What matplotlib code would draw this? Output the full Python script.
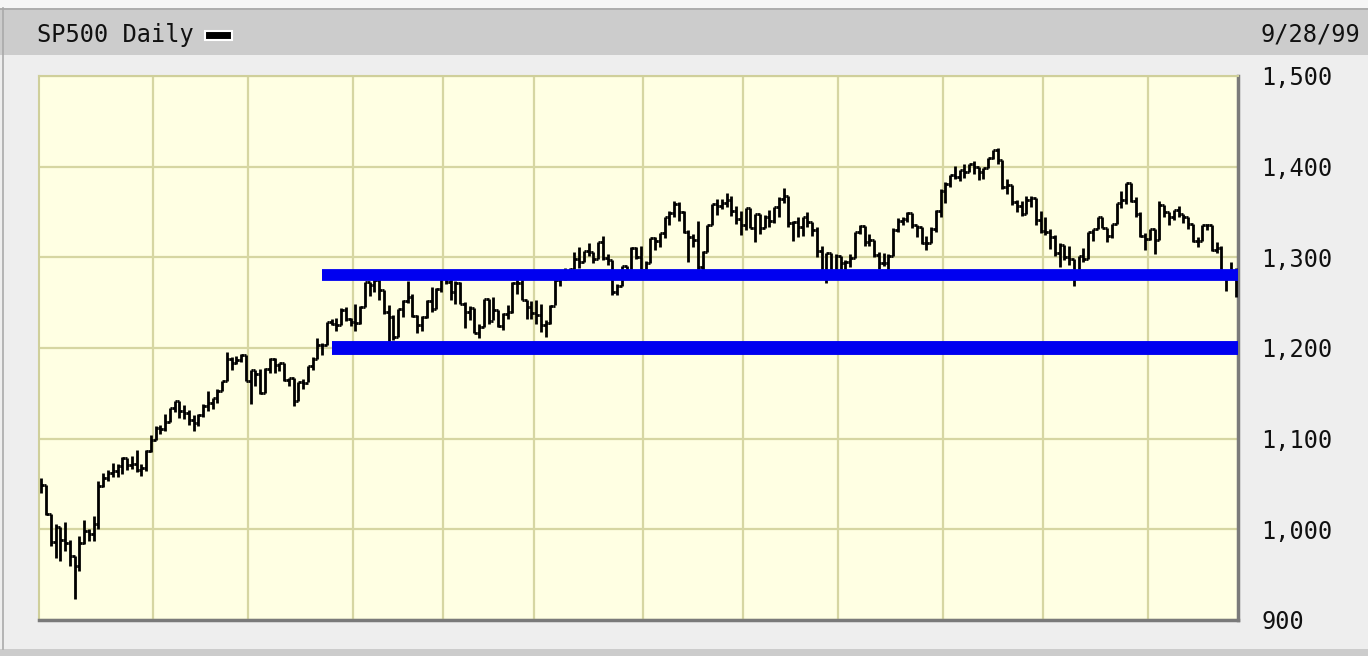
import numpy as np
import matplotlib.pyplot as plt
from matplotlib.patches import Rectangle
from matplotlib.ticker import FuncFormatter

# trading days per month, 9/29/98 .. 9/28/99
month_lengths = [2, 22, 20, 22, 19, 19, 23, 21, 20, 22, 21, 22, 19]

close = [
    1049.0, 1017.0,
    986.4, 1002.6, 988.6, 984.6, 970.7, 959.4, 984.4, 997.7, 994.8, 1005.5, 1047.5,
    1056.4, 1062.4, 1063.9, 1069.9, 1078.5, 1070.7, 1072.3, 1065.3, 1068.1, 1085.9, 1098.7,
    1111.6, 1110.8, 1118.7, 1133.9, 1141.0, 1130.2, 1128.3, 1121.0, 1117.7, 1125.7,
    1135.9, 1139.3, 1144.5, 1152.6, 1163.6, 1188.2, 1183.0, 1186.9, 1192.3, 1163.6,
    1175.3, 1171.3, 1150.1, 1176.7, 1187.7, 1181.4, 1183.5, 1165.0, 1166.5, 1141.2, 1162.8,
    1161.9, 1180.0, 1188.0, 1202.8, 1203.6, 1228.5, 1226.3, 1225.5, 1241.8, 1231.9, 1229.2,
    1228.1, 1244.8, 1272.3, 1269.7, 1275.1, 1263.9, 1239.5, 1234.4, 1212.2, 1243.3,
    1252.0, 1256.6, 1235.2, 1225.2, 1234.0, 1252.3, 1243.2, 1265.4, 1279.6,
    1273.0, 1262.0, 1272.1, 1248.5, 1239.4, 1243.8, 1216.1, 1223.6, 1254.0, 1230.1,
    1241.9, 1224.0, 1237.3, 1239.2, 1272.1, 1271.2, 1253.4, 1245.0, 1238.3,
    1236.2, 1225.5, 1227.7, 1246.6, 1275.5, 1282.7, 1279.8, 1286.8, 1297.7, 1294.6, 1307.3, 1306.4,
    1297.8, 1316.6, 1299.3, 1297.0, 1262.1, 1268.6, 1290.0, 1282.8, 1310.2, 1300.8, 1286.4,
    1293.7, 1321.1, 1317.9, 1326.9, 1344.0, 1348.4, 1358.6, 1349.8, 1328.4, 1322.9, 1319.0,
    1289.5, 1306.2, 1336.1, 1358.8, 1356.9, 1360.0, 1362.8, 1350.9, 1342.8, 1335.2,
    1354.6, 1332.0, 1347.3, 1332.1, 1345.0, 1340.3, 1355.6, 1364.0, 1367.6, 1337.8,
    1339.5, 1333.3, 1344.2, 1338.8, 1330.3, 1306.7, 1284.4, 1304.8, 1281.4, 1301.8,
    1294.3, 1294.8, 1299.5, 1327.8, 1334.5, 1317.3, 1318.6, 1302.8, 1293.6, 1294.0, 1301.2,
    1330.4, 1339.9, 1342.8, 1349.0, 1335.9, 1333.1, 1315.8, 1315.3, 1331.4, 1351.5, 1372.7,
    1381.0, 1391.2, 1388.1, 1395.9, 1394.4, 1403.3, 1399.1, 1393.6, 1398.2, 1409.6, 1418.8,
    1407.7, 1377.1, 1379.3, 1361.0, 1356.9, 1347.8, 1362.8, 1365.4, 1341.0, 1328.7,
    1328.1, 1322.2, 1305.3, 1313.7, 1300.3, 1297.8, 1281.4, 1301.9, 1298.2, 1327.7, 1330.8,
    1344.2, 1332.8, 1323.6, 1336.6, 1360.2, 1363.5, 1381.8, 1362.0, 1348.3, 1324.0, 1320.4,
    1331.1, 1319.1, 1357.2, 1350.5, 1344.2, 1351.7, 1347.7, 1344.1, 1336.3, 1318.0,
    1318.5, 1335.4, 1335.5, 1307.6, 1310.5, 1280.4, 1277.4, 1283.3, 1282.2,
]

high = [
    1056.3, 1049.0,
    1017.0, 1005.6, 1002.6, 1008.0, 988.6, 970.7, 993.0, 1010.0, 1000.8, 1014.4, 1053.1,
    1062.0, 1065.0, 1073.0, 1072.4, 1080.0, 1078.5, 1081.0, 1087.1, 1072.3, 1088.0, 1103.8,
    1114.5, 1114.8, 1127.4, 1133.9, 1141.3, 1141.0, 1136.9, 1131.4, 1126.5, 1126.9,
    1138.4, 1152.8, 1145.0, 1155.1, 1163.6, 1196.0, 1190.5, 1191.3, 1192.9, 1192.3,
    1175.9, 1175.3, 1176.3, 1177.4, 1188.9, 1189.1, 1183.8, 1183.5, 1167.0, 1166.5, 1163.0,
    1166.0, 1180.0, 1190.0, 1210.9, 1205.0, 1229.0, 1232.0, 1233.0, 1244.0, 1245.0, 1233.0,
    1248.8, 1246.1, 1273.0, 1272.3, 1278.2, 1276.0, 1264.0, 1247.0, 1236.0, 1243.3,
    1253.0, 1274.0, 1260.0, 1236.0, 1235.0, 1253.0, 1267.0, 1266.0, 1280.0,
    1283.8, 1279.0, 1274.0, 1273.0, 1251.0, 1246.0, 1244.0, 1226.0, 1254.0, 1254.0,
    1256.0, 1242.0, 1239.0, 1247.0, 1273.0, 1280.0, 1283.0, 1253.0, 1252.0,
    1253.0, 1248.0, 1231.0, 1247.0, 1276.0, 1283.0, 1288.0, 1288.0, 1306.0, 1311.0, 1307.3, 1316.0,
    1306.4, 1317.0, 1323.0, 1304.0, 1297.0, 1271.0, 1290.0, 1290.0, 1311.0, 1311.0, 1312.0,
    1296.0, 1321.1, 1322.0, 1327.0, 1344.1, 1351.0, 1362.0, 1361.0, 1351.0, 1330.0, 1326.0,
    1340.0, 1307.0, 1336.1, 1359.0, 1364.0, 1364.0, 1371.0, 1368.0, 1357.0, 1351.0,
    1354.6, 1354.6, 1347.3, 1348.0, 1347.0, 1352.0, 1356.0, 1367.0, 1376.0, 1367.6,
    1340.0, 1345.0, 1344.2, 1350.0, 1339.0, 1333.0, 1312.0, 1305.0, 1305.0, 1304.0,
    1301.8, 1297.0, 1304.0, 1328.0, 1336.0, 1334.5, 1326.0, 1318.6, 1306.0, 1305.0, 1304.0,
    1332.0, 1343.0, 1345.0, 1350.0, 1349.0, 1335.9, 1334.0, 1324.0, 1333.0, 1352.0, 1375.0,
    1383.0, 1391.2, 1401.0, 1395.9, 1403.0, 1403.3, 1406.0, 1399.1, 1398.2, 1409.6, 1418.8,
    1420.3, 1407.7, 1386.0, 1380.0, 1363.0, 1362.0, 1368.0, 1368.0, 1365.0, 1351.0,
    1344.0, 1331.0, 1325.0, 1316.0, 1313.7, 1313.0, 1298.0, 1302.0, 1310.0, 1327.7, 1331.0,
    1344.2, 1344.2, 1332.8, 1336.6, 1360.2, 1373.0, 1382.0, 1381.8, 1366.0, 1350.0, 1327.0,
    1331.1, 1331.1, 1362.0, 1358.0, 1350.5, 1352.0, 1357.0, 1347.7, 1344.1, 1336.3,
    1322.0, 1335.4, 1337.0, 1335.5, 1317.0, 1312.0, 1281.0, 1295.0, 1288.0,
]

low = [
    1039.9, 1015.7,
    981.3, 968.0, 965.0, 976.0, 960.0, 923.3, 954.0, 984.0, 987.0, 987.0, 1000.0,
    1047.0, 1053.0, 1058.0, 1058.0, 1061.0, 1065.0, 1067.0, 1063.0, 1059.0, 1064.0, 1085.0,
    1098.7, 1105.0, 1108.7, 1118.7, 1129.0, 1122.5, 1121.7, 1115.0, 1109.0, 1114.0,
    1124.0, 1131.0, 1133.0, 1139.0, 1152.6, 1163.6, 1175.8, 1182.0, 1185.0, 1163.3,
    1138.0, 1158.0, 1149.0, 1150.1, 1172.0, 1172.0, 1175.0, 1164.0, 1158.0, 1136.0, 1141.2,
    1155.0, 1162.0, 1176.0, 1188.0, 1192.0, 1203.6, 1225.0, 1219.0, 1225.0, 1230.0, 1224.0,
    1219.0, 1226.0, 1244.8, 1257.7, 1261.4, 1253.0, 1238.0, 1205.0, 1209.0, 1212.2,
    1234.0, 1250.0, 1234.0, 1217.0, 1219.0, 1233.0, 1240.0, 1243.0, 1262.0,
    1271.0, 1253.0, 1249.0, 1248.0, 1222.0, 1231.0, 1216.0, 1211.0, 1223.6, 1227.0,
    1231.0, 1223.0, 1220.0, 1232.0, 1239.0, 1260.0, 1253.0, 1232.0, 1232.0,
    1227.0, 1218.0, 1212.0, 1226.0, 1247.0, 1268.0, 1275.0, 1277.0, 1287.0, 1288.0, 1295.0, 1301.0,
    1294.0, 1298.0, 1297.0, 1292.0, 1259.0, 1258.0, 1268.6, 1276.0, 1283.0, 1298.0, 1286.0,
    1281.0, 1293.7, 1308.0, 1311.0, 1321.0, 1336.0, 1344.0, 1340.0, 1327.0, 1295.0, 1311.0,
    1284.0, 1284.0, 1306.0, 1336.0, 1347.0, 1353.0, 1356.0, 1346.0, 1337.0, 1325.0,
    1330.0, 1332.0, 1317.0, 1326.0, 1332.0, 1334.0, 1338.0, 1344.0, 1360.0, 1333.0,
    1318.0, 1322.0, 1323.0, 1334.0, 1324.0, 1300.0, 1283.0, 1272.0, 1277.0, 1281.0,
    1281.0, 1276.0, 1289.0, 1299.5, 1326.0, 1312.0, 1313.0, 1300.0, 1287.0, 1290.0, 1286.0,
    1301.2, 1328.0, 1336.0, 1339.0, 1332.0, 1322.0, 1315.0, 1308.0, 1315.3, 1328.0, 1345.0,
    1360.0, 1378.0, 1386.0, 1384.0, 1387.0, 1394.0, 1392.0, 1385.0, 1386.0, 1398.0, 1409.0,
    1403.0, 1375.0, 1370.0, 1358.0, 1350.0, 1346.0, 1347.8, 1355.0, 1336.0, 1327.0,
    1325.0, 1309.0, 1302.0, 1289.0, 1297.0, 1292.0, 1268.0, 1281.4, 1295.0, 1298.2, 1318.0,
    1330.8, 1332.0, 1317.0, 1321.0, 1336.6, 1354.0, 1359.0, 1361.0, 1345.0, 1322.0, 1308.0,
    1319.0, 1304.0, 1319.1, 1345.0, 1336.0, 1341.0, 1345.0, 1338.0, 1331.0, 1317.0,
    1311.0, 1318.0, 1330.0, 1307.0, 1305.0, 1278.0, 1263.0, 1277.0, 1256.0,
]

# support / resistance lines drawn on the chart
levels = [1280, 1200]
level_start = [59, 61]

yticks = [900, 1000, 1100, 1200, 1300, 1400, 1500]
title = 'SP500 Daily'
last_date = '9/28/99'

W, H = 1368, 656
mono = 'DejaVu Sans Mono'
n = len(close)
x = np.arange(n)

fig = plt.figure(figsize=(W / 100, H / 100), dpi=100, facecolor='#EEEEEE')

# header strip and frame
fig.patches.append(Rectangle((0, 1 - 8 / H), 1, 8 / H, transform=fig.transFigure,
                             facecolor='#F6F6F6', edgecolor='none', zorder=0))
fig.patches.append(Rectangle((0, 1 - 55 / H), 1, 47 / H, transform=fig.transFigure,
                             facecolor='#CCCCCC', edgecolor='none', zorder=0))
fig.lines.append(plt.Line2D([0, 1], [1 - 8.5 / H, 1 - 8.5 / H], transform=fig.transFigure,
                            color='#A8A8A8', lw=1.2))
fig.patches.append(Rectangle((0, 0), 1, 7 / H, transform=fig.transFigure,
                             facecolor='#CCCCCC', edgecolor='none', zorder=0))
fig.lines.append(plt.Line2D([3 / W, 3 / W], [7 / H, 1 - 8 / H], transform=fig.transFigure,
                            color='#AAAAAA', lw=1.2))

fig.text(37 / W, 1 - 35 / H, title, family=mono, size=17, va='center', color='#111111')
fig.patches.append(Rectangle((205 / W, 1 - 40 / H), 27 / W, 9 / H, transform=fig.transFigure,
                             facecolor='black', edgecolor='white', lw=1.5))
fig.text(1360 / W, 1 - 35 / H, last_date, family=mono, size=17, va='center', ha='right',
         color='#111111')

ax = fig.add_axes([39 / W, 1 - 620 / H, 1199 / W, 544 / H])
ax.set_facecolor('#FFFFE3')
ax.set_xlim(-0.5, n - 0.5)
ax.set_ylim(900, 1500)

# gridlines at the start of each full month
month_edges = np.cumsum(month_lengths)[1:-1] - 0.5
ax.set_xticks(month_edges)
ax.set_xticklabels([])
ax.set_yticks(yticks)
ax.yaxis.tick_right()
ax.yaxis.set_major_formatter(FuncFormatter(lambda v, p: f'{v:,.0f}'))
ax.tick_params(axis='both', length=0)
ax.tick_params(axis='y', pad=17, labelsize=17, labelcolor='#111111')
for lab in ax.get_yticklabels():
    lab.set_family(mono)
ax.grid(True, color='#D6D6A2', lw=1.6)
ax.set_axisbelow(True)

for s in ['top', 'left']:
    ax.spines[s].set_color('#CFCF9A')
    ax.spines[s].set_linewidth(1.5)
for s in ['bottom', 'right']:
    ax.spines[s].set_color('#7A7A7A')
    ax.spines[s].set_linewidth(2.5)

# HLC bars, left tick at the prior close
ax.vlines(x, low, high, color='black', lw=2.0, zorder=3)
ax.hlines(close, x, x + 0.5, color='black', lw=2.0, zorder=3)
ax.hlines(close[:-1], x[1:] - 0.5, x[1:], color='black', lw=2.0, zorder=3)

lines = ax.hlines(levels, level_start, n - 0.5, colors='#0000F0', lw=[8.5, 10], zorder=4)
lines.set_capstyle('butt')

fig.savefig('out.png', dpi=100, facecolor=fig.get_facecolor())
